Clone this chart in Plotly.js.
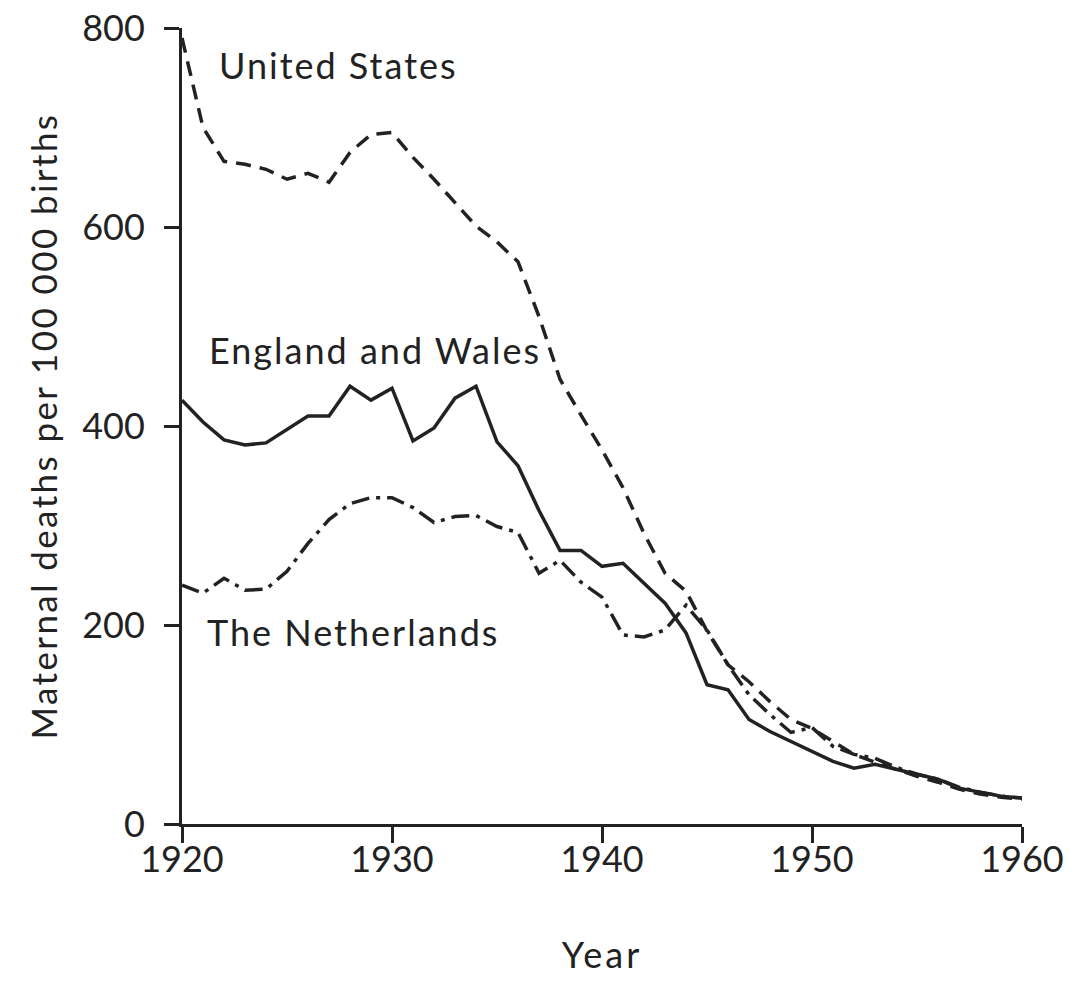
<!DOCTYPE html>
<html>
<head>
<meta charset="utf-8">
<script src="https://cdn.plot.ly/plotly-3.0.1.min.js"></script>
<style>
html,body{margin:0;padding:0;background:#fff;}
#chart{width:1078px;height:989px;}
#chart .annotation-text{letter-spacing:2px;}
#chart .ytitle{letter-spacing:2.4px;}
#chart .xtitle{letter-spacing:3px;}
</style>
</head>
<body>
<div id="chart"></div>
<script>
const years = [1920,1921,1922,1923,1924,1925,1926,1927,1928,1929,1930,1931,1932,1933,1934,1935,1936,1937,1938,1939,1940,1941,1942,1943,1944,1945,1946,1947,1948,1949,1950,1951,1952,1953,1954,1955,1956,1957,1958,1959,1960];
const unitedStates = [790,700,666,663,658,648,654,645,675,693,695,670,648,624,601,585,565,510,447,411,376,338,292,252,234,194,160,143,123,105,96,83,70,62,55,48,42,35,30,27,25];
const englandWales = [426,404,386,381,383,396,410,410,440,426,438,385,398,428,440,384,360,315,275,275,259,262,242,222,192,140,135,105,93,83,73,63,56,60,55,50,45,36,32,28,26];
const netherlands = [240,232,247,235,236,254,282,306,322,328,328,318,303,309,310,299,293,252,265,243,228,190,188,195,220,195,160,130,110,92,97,78,70,66,57,50,45,37,32,28,26];
const xTicks = [1920,1930,1940,1950,1960];
const yTicks = [0,200,400,600,800];
const seriesLabels = ["United States","England and Wales","The Netherlands"];

const ink = '#222222';
const font = 'Lato, "DejaVu Sans", sans-serif';

const traces = [
  {x: years, y: unitedStates, name: seriesLabels[0], mode: 'lines',
   line: {color: ink, width: 3.5, dash: '15px,9px'}},
  {x: years, y: englandWales, name: seriesLabels[1], mode: 'lines',
   line: {color: ink, width: 3.5}},
  {x: years, y: netherlands, name: seriesLabels[2], mode: 'lines',
   line: {color: ink, width: 3.5, dash: '18px,7px,4px,7px'}}
];

const layout = {
  width: 1078, height: 989,
  margin: {l: 182, r: 56, t: 28, b: 165},
  paper_bgcolor: '#fff', plot_bgcolor: '#fff',
  showlegend: false,
  font: {family: font, color: ink, size: 36},
  xaxis: {
    range: [1920, 1960], tickvals: xTicks, ticktext: xTicks.map(String),
    showgrid: false, zeroline: false, showline: true, linecolor: ink, linewidth: 3,
    ticks: 'outside', ticklen: 16, tickwidth: 3, tickcolor: ink,
    tickfont: {family: font, size: 36, color: ink}, ticklabelstandoff: -14,
    title: {text: 'Year', font: {family: font, size: 36, color: ink}, standoff: 64},
    automargin: false, fixedrange: true
  },
  yaxis: {
    range: [0, 800], tickvals: yTicks, ticktext: yTicks.map(String),
    showgrid: false, zeroline: false, showline: true, linecolor: ink, linewidth: 3,
    ticks: 'outside', ticklen: 15, tickwidth: 3, tickcolor: ink,
    tickfont: {family: font, size: 36, color: ink}, ticklabelstandoff: 12,
    title: {text: 'Maternal deaths per 100 000 births', font: {family: font, size: 35, color: ink}, standoff: 14},
    automargin: false, fixedrange: true
  },
  annotations: [
    {x: 1922.3, y: 763, xref: 'x', yref: 'y', text: seriesLabels[0], showarrow: false, xanchor: 'left', yanchor: 'middle', font: {family: font, size: 36, color: ink}},
    {x: 1922.0, y: 476, xref: 'x', yref: 'y', text: seriesLabels[1], showarrow: false, xanchor: 'left', yanchor: 'middle', font: {family: font, size: 36, color: ink}},
    {x: 1921.8, y: 193, xref: 'x', yref: 'y', text: seriesLabels[2], showarrow: false, xanchor: 'left', yanchor: 'middle', font: {family: font, size: 36, color: ink}}
  ]
};

Plotly.newPlot('chart', traces, layout, {displayModeBar: false, staticPlot: true});
</script>
</body>
</html>
